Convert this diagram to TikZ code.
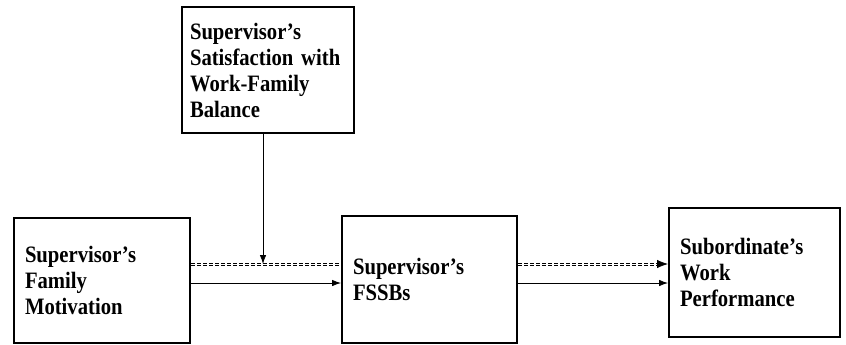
\documentclass[tikz,border=0pt]{standalone}
\usepackage{fontspec}
\setmainfont{Liberation Serif}[FakeStretch=0.88]
\usetikzlibrary{arrows.meta}

\tikzset{
  box/.style={
    draw,
    line width=2pt,
    inner xsep=11pt,
    inner ysep=0pt,
    align=left,
    font=\bfseries\fontsize{23.5}{26}\selectfont
  },
  link/.style={
    line width=0.8pt
  },
  arrow/.style={
    link,
    -{Latex[length=9pt,width=6.5pt]}
  },
  big arrow/.style={
    link,
    -{Latex[length=11pt,width=8.5pt]}
  },
  dashes/.style={
    line width=0.7pt,
    dash pattern=on 4pt off 2pt
  }
}

\begin{document}
\begin{tikzpicture}[x=1pt,y=1pt]
    \useasboundingbox (0,0) rectangle (846,-345);
    \node[box, text width=154pt, minimum height=125pt] at (102,-280.5) (motiv) {Supervisor's\\Family\\Motivation};
    \node[box, text width=153pt, minimum height=127pt] at (429.5,-279.5) (fssb) {Supervisor's\\FSSBs};
    \node[box, text width=149pt, minimum height=129pt] at (754.5,-272.5) (perf) {Subordinate's\\Work\\Performance};
    \node[box, inner xsep=8pt, text width=156pt, minimum height=126pt] at (268,-70) (satis) {Supervisor's\\Satisfaction with\\Work-Family\\Balance};
    % moderating path
    \coordinate (mod) at (263,-264);
    \coordinate (d1) at (motiv.east |- mod);
    \coordinate (d2) at (fssb.west |- mod);
    \coordinate (d3) at (fssb.east |- mod);
    \coordinate (d4) at (perf.west |- mod);
    \foreach \s in {-1.1,1.1} {
      \draw[dashes] ([yshift=\s pt]d1) -- ([yshift=\s pt]d2);
      \draw[dashes] ([yshift=\s pt]d3) -- ([xshift=-8pt,yshift=\s pt]d4);
    }
    \draw[big arrow] ([xshift=-10pt]d4) -- (d4);
    \draw[arrow] (satis.south -| mod) -- (mod);
    % direct paths
    \draw[arrow] (motiv.east |- 0,-283) -- (fssb.west |- 0,-283);
    \draw[arrow] (fssb.east |- 0,-283) -- (perf.west |- 0,-283);
\end{tikzpicture}
\end{document}
